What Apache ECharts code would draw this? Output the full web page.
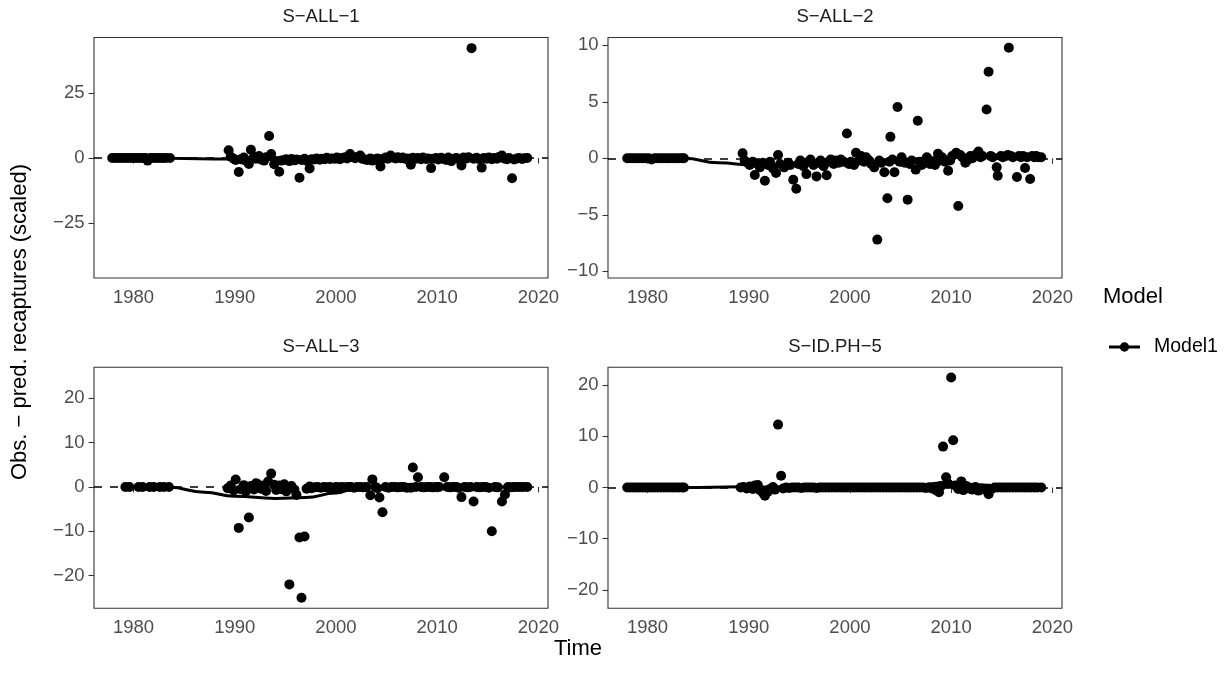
<!DOCTYPE html>
<html><head><meta charset="utf-8">
<script src="https://cdn.jsdelivr.net/npm/echarts@6/dist/echarts.min.js"></script>
<style>html,body{margin:0;padding:0;background:#fff}#c{width:1230px;height:673px}</style>
</head><body><div id="c"></div>
<script>
// ---------------- DATA ----------------
const panelTitles = ['S\u2212ALL\u22121', 'S\u2212ALL\u22122', 'S\u2212ALL\u22123', 'S\u2212ID.PH\u22125'];
const xTicks = [1980, 1990, 2000, 2010, 2020];
const yTicks1 = [-25, 0, 25];
const yTicks2 = [-10, -5, 0, 5, 10];
const yTicks3 = [-20, -10, 0, 10, 20];
const yTicks4 = [-20, -10, 0, 10, 20];
const seriesName = 'Model1';

// Panel 1: S-ALL-1 residuals [year, value]
const p1Points = [
[1977.9,0],[1978.2,0],[1978.5,0],[1978.8,0],[1979.1,0],[1979.4,0],[1979.7,0],[1980.0,0],[1980.3,0],[1980.6,0],
[1980.9,0],[1981.2,0],[1981.4,-1.0],[1981.7,0],[1982.0,0],[1982.3,0],[1982.6,0],[1982.9,0],[1983.2,0],[1983.6,0],
[1989.4,3.0],[1989.6,0.5],[1989.9,-0.3],[1990.1,-0.8],[1990.4,-5.4],[1990.6,-0.5],[1990.9,0.2],[1991.1,-1.0],[1991.4,-2.3],[1991.6,3.2],
[1991.9,0.5],[1992.1,-0.3],[1992.4,0.8],[1992.6,-0.6],[1992.9,-1.0],[1993.1,0.3],[1993.4,8.5],[1993.6,1.5],[1993.9,-2.4],[1994.1,-1.2],
[1994.4,-5.3],[1994.6,-1.0],[1994.9,-0.8],[1995.1,-0.5],[1995.4,-1.2],[1995.6,-0.4],[1995.9,-0.9],[1996.1,-0.6],[1996.4,-7.6],[1996.6,-0.8],
[1996.9,-0.3],[1997.1,-1.0],[1997.4,-4.0],[1997.6,-0.5],[1997.9,-0.6],[1998.1,-0.2],[1998.4,-0.7],[1998.6,-0.3],[1998.9,-0.5],[1999.1,0.1],
[1999.4,-0.4],[1999.6,-0.2],[1999.9,-0.3],[2000.1,0.2],[2000.4,-0.5],[2000.6,0.0],[2000.9,0.3],[2001.1,-0.2],[2001.4,1.5],[2001.6,0.4],
[2001.9,-0.1],[2002.1,0.4],[2002.4,1.0],[2002.6,-0.3],[2002.9,-0.6],[2003.1,-0.8],[2003.4,-0.2],[2003.6,-1.0],[2003.9,-0.5],[2004.1,-0.2],
[2004.4,-3.3],[2004.6,-0.4],[2004.9,0.2],[2005.1,-0.3],[2005.4,1.0],[2005.6,0.2],[2005.9,-0.2],[2006.1,0.3],[2006.4,-0.1],[2006.6,0.2],
[2006.9,-0.4],[2007.1,-0.2],[2007.4,-2.6],[2007.6,0.1],[2007.9,-0.3],[2008.1,0.0],[2008.4,-0.5],[2008.6,0.2],[2008.9,-0.4],[2009.1,-0.2],
[2009.4,-3.9],[2009.6,-0.3],[2009.9,0.0],[2010.1,-0.6],[2010.4,0.1],[2010.6,-0.4],[2010.9,-0.8],[2011.1,0.2],[2011.4,-1.2],[2011.6,-0.3],
[2011.9,0.0],[2012.1,-0.5],[2012.4,-2.9],[2012.6,0.2],[2012.9,-0.2],[2013.1,0.3],[2013.4,42.4],[2013.6,-0.3],[2013.9,0.1],[2014.1,-0.4],
[2014.4,-3.7],[2014.6,0.0],[2014.9,-0.3],[2015.1,0.2],[2015.4,-0.5],[2015.6,0.0],[2015.9,-0.3],[2016.1,0.4],[2016.4,1.0],[2016.6,-0.2],
[2016.9,-0.5],[2017.1,0.0],[2017.4,-7.8],[2017.6,-0.6],[2017.9,-0.2],[2018.1,0.0],[2018.4,-0.4],[2018.6,-0.1],[2018.9,0.0]
];
const p1Smooth = [[1977.9,0],[1983.6,-0.1],[1989.4,-0.4],[1995,-0.6],[2000,-0.3],[2005,-0.1],[2010,-0.1],[2015,0],[2018.9,0]];

// Panel 2: S-ALL-2
const p2Points = [
[1978.0,0],[1978.3,0],[1978.6,0],[1978.9,0],[1979.2,0],[1979.5,0],[1979.8,0],[1980.1,0],[1980.4,-0.1],[1980.7,0],
[1981.0,0],[1981.3,0],[1981.6,0],[1981.9,0],[1982.2,0],[1982.5,0],[1982.8,0],[1983.1,0],[1983.4,0],[1983.6,0],
[1989.4,0.44],[1989.6,-0.2],[1989.9,-0.4],[1990.1,-0.6],[1990.4,-0.3],[1990.6,-1.48],[1990.9,-0.5],[1991.1,-0.8],[1991.4,-0.4],[1991.6,-1.98],
[1991.9,-0.6],[1992.1,-0.3],[1992.4,-0.9],[1992.7,-1.3],[1992.9,0.3],[1993.1,-0.5],[1993.5,-0.8],[1993.9,-0.4],[1994.1,-0.6],[1994.4,-1.9],
[1994.7,-2.7],[1994.9,-0.5],[1995.1,-0.2],[1995.4,-0.7],[1995.7,-1.4],[1995.9,-0.3],[1996.1,-0.1],[1996.4,-0.6],[1996.7,-1.6],[1996.9,-0.4],
[1997.1,-0.2],[1997.4,-0.7],[1997.7,-1.5],[1997.9,-0.3],[1998.1,-0.1],[1998.4,-0.5],[1998.6,-0.2],[1998.9,-0.4],[1999.1,-0.1],[1999.4,-0.3],
[1999.7,2.2],[1999.9,-0.5],[2000.1,-0.3],[2000.4,-0.6],[2000.6,0.5],[2000.9,-0.2],[2001.1,0.2],[2001.4,-0.3],[2001.6,0.1],[2001.9,-0.2],
[2002.1,-0.5],[2002.4,-0.8],[2002.7,-7.2],[2002.9,-0.2],[2003.1,-0.4],[2003.4,-1.24],[2003.7,-3.54],[2003.9,-0.3],[2004.0,1.9],[2004.2,-0.1],
[2004.4,-1.24],[2004.7,4.54],[2004.9,-0.3],[2005.1,0.1],[2005.4,-0.4],[2005.7,-3.66],[2005.9,-0.5],[2006.1,-0.2],[2006.5,-1.0],[2006.7,3.33],
[2006.9,-0.3],[2007.1,-0.6],[2007.4,-0.2],[2007.6,0.1],[2007.9,-0.5],[2008.1,-0.3],[2008.4,-0.6],[2008.7,0.4],[2008.9,-0.2],[2009.1,0.1],
[2009.4,-0.3],[2009.7,-1.1],[2009.9,-0.2],[2010.1,0.2],[2010.5,0.5],[2010.7,-4.22],[2010.9,0.3],[2011.1,0.1],[2011.4,-0.4],[2011.6,-0.2],
[2011.9,0.2],[2012.1,0.0],[2012.4,0.3],[2012.7,0.6],[2012.9,0.1],[2013.1,0.2],[2013.5,4.33],[2013.7,7.66],[2013.9,0.2],[2014.1,0.1],
[2014.5,-0.8],[2014.6,-1.54],[2014.9,0.2],[2015.1,0.1],[2015.4,0.2],[2015.6,0.3],[2015.7,9.8],[2015.9,0.2],[2016.1,0.1],[2016.5,-1.66],
[2016.7,0.2],[2016.9,0.1],[2017.1,0.2],[2017.3,-0.85],[2017.5,0.1],[2017.8,-1.83],[2018.0,0.2],[2018.2,0.1],[2018.4,0.2],[2018.6,0.1],[2018.9,0.1]
];
const p2Smooth = [[1978,0],[1983.6,0],[1987,-0.4],[1990.5,-0.6],[1995,-0.55],[2000,-0.4],[2005,-0.1],[2010,0.1],[2015,0.15],[2018.9,0.15]];

// Panel 3: S-ALL-3
const p3Points = [
[1979.2,0],[1979.6,0],[1980.5,0],[1980.9,0],[1981.6,0],[1982.0,0],[1982.6,0],[1983.0,0],[1983.5,0],
[1989.3,-0.3],[1989.6,0.3],[1989.9,-0.8],[1990.1,1.66],[1990.4,-9.25],[1990.6,-0.5],[1990.9,0.4],[1991.1,-1.0],[1991.4,-6.9],[1991.6,0.2],
[1991.9,-0.6],[1992.1,0.8],[1992.3,0.6],[1992.6,-0.4],[1992.9,0.3],[1993.1,-0.9],[1993.3,1.2],[1993.6,3.0],[1993.9,0.5],[1994.1,-0.7],
[1994.4,0.3],[1994.6,-0.5],[1994.9,0.6],[1995.1,-1.0],[1995.4,-22.0],[1995.6,0.2],[1995.9,-0.6],[1996.1,-1.8],[1996.4,-11.4],[1996.6,-25.0],
[1996.9,-11.2],[1997.1,-0.4],[1997.4,0.1],[1997.6,-0.3],[1997.9,-0.1],[1998.2,0.0],[1998.5,-0.2],[1998.8,0.0],[1999.1,-0.1],[1999.4,0.0],
[1999.7,-0.2],[2000.0,0.0],[2000.3,-0.1],[2000.6,0.0],[2000.9,-0.1],[2001.2,0.0],[2001.5,0.0],[2001.8,-0.2],[2002.1,0.0],[2002.4,0.0],
[2002.7,-0.1],[2003.0,0.0],[2003.4,-1.9],[2003.6,1.7],[2003.9,0.0],[2004.1,-0.3],[2004.3,-2.4],[2004.6,-5.7],[2004.9,0.0],[2005.2,-0.2],
[2005.5,0.0],[2005.8,0.0],[2006.1,-0.1],[2006.4,0.0],[2006.7,0.0],[2007.0,-0.2],[2007.4,-0.2],[2007.6,4.4],[2007.9,0.0],[2008.1,2.2],
[2008.4,0.0],[2008.7,-0.1],[2009.0,0.0],[2009.3,0.0],[2009.6,-0.1],[2009.9,0.0],[2010.2,0.0],[2010.7,2.2],[2011.0,0.0],[2011.3,-0.1],
[2011.6,0.0],[2011.9,0.0],[2012.1,-0.2],[2012.4,-2.3],[2012.7,0.0],[2013.0,-0.1],[2013.3,0.0],[2013.6,-3.3],[2013.9,0.0],[2014.2,-0.1],
[2014.5,0.0],[2014.8,0.0],[2015.1,-0.2],[2015.4,-10.0],[2015.7,0.0],[2016.0,-0.1],[2016.4,-3.3],[2016.7,-1.7],[2017.0,0.0],[2017.3,-0.1],
[2017.6,0.0],[2017.9,0.0],[2018.2,0.0],[2018.5,0.0],[2018.9,0.0]
];
const p3Smooth = [[1979.2,0],[1983.5,-0.1],[1987,-1.2],[1990,-2.1],[1994,-2.6],[1997,-2.4],[2000,-1.4],[2002,-0.2],[2005,0],[2010,0],[2018.9,0]];

// Panel 4: S-ID.PH-5
const p4Points = [
[1978.0,0],[1978.3,0],[1978.6,0],[1978.9,0],[1979.2,0],[1979.5,0],[1979.8,0],[1980.1,0],[1980.4,0],[1980.7,0],
[1981.0,0],[1981.3,0],[1981.6,0],[1981.9,0],[1982.2,0],[1982.5,0],[1982.8,0],[1983.1,0],[1983.4,0],[1983.6,0],
[1989.2,0.0],[1989.5,0.1],[1989.8,-0.2],[1990.1,0.2],[1990.4,-0.3],[1990.6,0.4],[1990.9,0.5],[1991.1,-0.5],[1991.4,-1.0],[1991.6,-1.6],
[1991.9,-0.8],[1992.1,-0.3],[1992.4,0.1],[1992.6,-0.4],[1992.9,12.3],[1993.2,2.3],[1993.4,-0.2],[1993.7,0.0],[1994.0,-0.1],[1994.3,0.0],
[1994.6,0.0],[1994.9,0.0],[1995.2,-0.1],[1995.5,0.0],[1995.8,0.0],[1996.1,0.0],[1996.4,0.0],[1996.7,-0.1],[1997.0,0.0],[1997.3,0.0],
[1997.6,0.0],[1997.9,0.0],[1998.2,0.0],[1998.5,0.0],[1998.8,0.0],[1999.1,0.0],[1999.4,0.0],[1999.7,0.0],[2000.0,0.0],[2000.3,0.0],
[2000.6,0.0],[2000.9,0.0],[2001.2,0.0],[2001.5,0.0],[2001.8,0.0],[2002.1,0.0],[2002.4,0.0],[2002.7,0.0],[2003.0,0.0],[2003.3,0.0],
[2003.6,0.0],[2003.9,0.0],[2004.2,0.0],[2004.5,0.0],[2004.8,0.0],[2005.1,0.0],[2005.4,0.0],[2005.7,0.0],[2006.0,0.0],[2006.3,0.0],
[2006.6,0.0],[2006.9,0.0],[2007.2,0.0],[2007.5,-0.1],[2007.8,0.0],[2008.1,-0.2],[2008.5,-0.5],[2008.8,-0.9],[2009.0,0.3],[2009.2,8.0],
[2009.5,2.0],[2009.7,0.8],[2010.0,21.5],[2010.2,9.25],[2010.4,0.4],[2010.7,-0.3],[2011.0,1.2],[2011.2,-0.5],[2011.5,0.3],[2011.8,-0.2],
[2012.1,-0.4],[2012.4,0.1],[2012.7,-0.6],[2013.0,-0.2],[2013.4,-0.4],[2013.7,-1.3],[2014.0,-0.3],[2014.3,0.0],[2014.6,0.0],[2014.9,0.0],
[2015.2,0.0],[2015.5,0.0],[2015.8,0.0],[2016.1,0.0],[2016.4,0.0],[2016.7,0.0],[2017.0,0.0],[2017.3,0.0],[2017.6,0.0],[2017.9,0.0],
[2018.2,0.0],[2018.5,0.0],[2018.9,0.0]
];
const p4Smooth = [[1978,0],[1983.6,0],[1989.2,0.15],[1993,0.1],[2000,0],[2005,0.2],[2010,1.0],[2013,0.5],[2016,0.1],[2018.9,0]];

// ---------------- CHART ----------------
const panels = [
  {pts: p1Points, sm: p1Smooth, yt: yTicks1, ymin: -46.3, ymax: 46.5, left: 94, top: 37.5, h: 240.5},
  {pts: p2Points, sm: p2Smooth, yt: yTicks2, ymin: -10.6, ymax: 10.7, left: 608, top: 37.5, h: 240.5},
  {pts: p3Points, sm: p3Smooth, yt: yTicks3, ymin: -27.4, ymax: 27.0, left: 94, top: 367.3, h: 241},
  {pts: p4Points, sm: p4Smooth, yt: yTicks4, ymin: -23.6, ymax: 23.5, left: 608, top: 367.3, h: 241}
];
const W = 454;
const axisColor = '#333333';
const labelColor = '#4d4d4d';
const FONT = 'Liberation Sans, Arial, sans-serif';
const SMALL = 18.5;

const grids = [], xAxes = [], yAxes = [], series = [], graphics = [];
panels.forEach((p, i) => {
  grids.push({left: p.left, top: p.top, width: W, height: p.h, show: true, borderColor: axisColor, borderWidth: 1.1, backgroundColor: '#fff'});
  xAxes.push({
    type: 'value', gridIndex: i, min: 1976.1, max: 2020.95,
    splitLine: {show: false},
    axisLine: {show: false},
    axisTick: {show: true, length: 5.5, lineStyle: {color: axisColor, width: 1.1}, customValues: xTicks},
    axisLabel: {color: labelColor, fontSize: SMALL, fontFamily: FONT, margin: 10, customValues: xTicks, formatter: v => String(v)}
  });
  yAxes.push({
    type: 'value', gridIndex: i, min: p.ymin, max: p.ymax,
    splitLine: {show: false},
    axisLine: {show: false},
    axisTick: {show: true, length: 5.5, lineStyle: {color: axisColor, width: 1.1}, customValues: p.yt},
    axisLabel: {color: labelColor, fontSize: SMALL, fontFamily: FONT, margin: 9.5, customValues: p.yt,
      formatter: v => (v < 0 ? '\u2212' + Math.abs(v) : String(v))}
  });
  series.push({
    name: seriesName, type: 'scatter', xAxisIndex: i, yAxisIndex: i, data: p.pts,
    symbol: 'circle', symbolSize: 10, itemStyle: {color: '#000', opacity: 1}, z: 2, silent: true
  });
  series.push({
    name: seriesName, type: 'line', xAxisIndex: i, yAxisIndex: i, data: p.sm,
    smooth: 0.5, smoothMonotone: 'x', showSymbol: false, symbol: 'circle', symbolSize: 10,
    lineStyle: {color: '#000', width: 3}, itemStyle: {color: '#000'}, z: 3, silent: true,
    markLine: {silent: true, symbol: ['none', 'none'], label: {show: false},
      lineStyle: {color: '#000', width: 1.5, type: [8, 8]}, data: [{yAxis: 0}], animation: false}
  });
  graphics.push({type: 'text', x: p.left + W / 2, y: p.top - 20.5,
    style: {text: panelTitles[i], fill: '#1a1a1a', font: SMALL + 'px ' + FONT, textAlign: 'center', textVerticalAlign: 'middle'}});
});

graphics.push({type: 'text', x: 578, y: 649,
  style: {text: 'Time', fill: '#000', font: '22px ' + FONT, textAlign: 'center', textVerticalAlign: 'middle'}});
graphics.push({type: 'text', x: 20, y: 322, rotation: Math.PI / 2,
  style: {text: 'Obs. \u2212 pred. recaptures (scaled)', fill: '#000', font: '22px ' + FONT, textAlign: 'center', textVerticalAlign: 'middle'}});
graphics.push({type: 'text', x: 1103, y: 297,
  style: {text: 'Model', fill: '#000', font: '22px ' + FONT, textAlign: 'left', textVerticalAlign: 'middle'}});

const chart = echarts.init(document.getElementById('c'), null, {renderer: 'canvas'});
chart.setOption({
  animation: false,
  backgroundColor: '#fff',
  grid: grids, xAxis: xAxes, yAxis: yAxes, series: series, graphic: graphics,
  legend: {
    data: [seriesName], left: 1104, top: 332, orient: 'vertical',
    itemWidth: 31, itemHeight: 10, itemGap: 10,
    icon: 'path://M0,3.6 L31,3.6 L31,6.4 L0,6.4 Z M15.5,0.3 A4.7,4.7 0 1,1 15.49,0.3 Z',
    itemStyle: {color: '#000', borderWidth: 0},
    textStyle: {color: '#000', fontSize: 19.5, fontFamily: FONT, padding: [0, 0, 0, 9]},
    selectedMode: false
  }
});
</script></body></html>
